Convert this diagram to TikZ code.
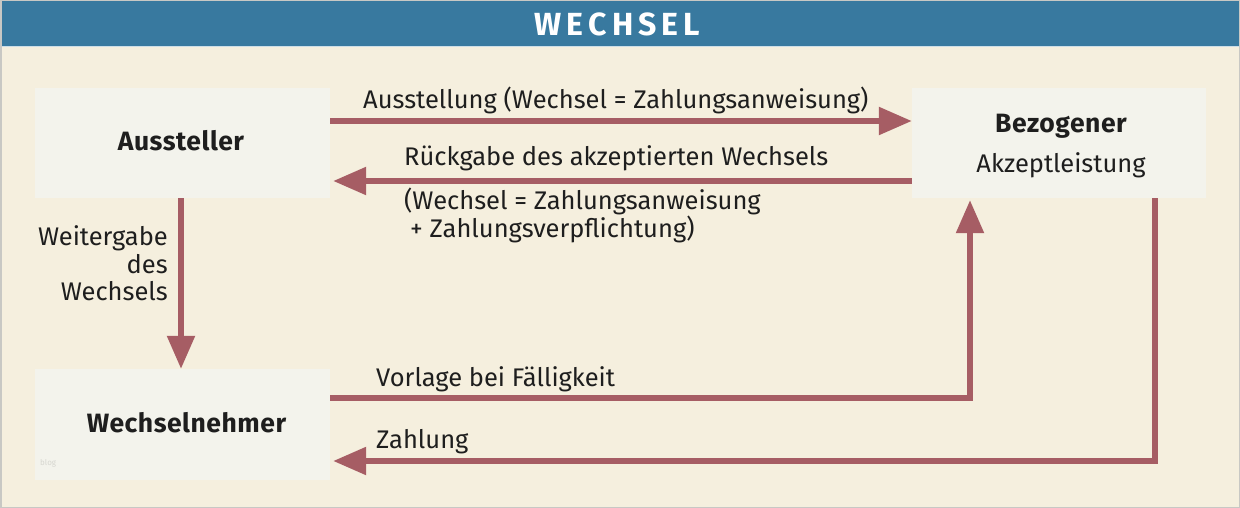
\documentclass[tikz,border=0pt]{standalone}
\usepackage{fontspec}
\setmainfont{Fira Sans}
\usetikzlibrary{arrows.meta,calc}
\definecolor{bg}{HTML}{F5EFDE}
\definecolor{hdr}{HTML}{38799F}
\definecolor{boxc}{HTML}{F3F3EC}
\definecolor{arrc}{HTML}{A65D64}
\definecolor{frame}{HTML}{C8C8C4}
\definecolor{txt}{HTML}{1E1E1E}
\tikzset{
  box/.style={fill=boxc, draw=none, minimum width=295pt, minimum height=110pt, inner sep=0pt},
  boxtxt/.style={inner sep=0pt, text=txt, font=\fontsize{26.5}{30}\selectfont\bfseries\addfontfeature{LetterSpace=2}},
  arr/.style={draw=arrc, line width=5.5pt, -{Triangle[length=33pt,width=27pt]}},
  lbl/.style={inner sep=0pt, text=txt, font=\fontsize{25.5}{30}\selectfont},
}
\begin{document}
\begin{tikzpicture}[x=1pt,y=-1pt]
\useasboundingbox (0,0) rectangle (1240,508);
\fill[bg] (0,0) rectangle (1240,508);
\draw[frame, line width=1.5pt] (0.75,0.75) rectangle (1239.25,507.25);
\fill[hdr] (1.5,1.5) rectangle (1238.5,46);
\draw[white!75!hdr, line width=1pt] (1.5,46.5) -- (1238.5,46.5);
\node[text=white, inner sep=0pt, font=\fontsize{32}{36}\selectfont\bfseries\addfontfeature{LetterSpace=16}] (title) at (617.5,24) {WECHSEL};

\node[box] (aus) at (182.5,143) {};
\node[box, minimum width=294pt] (bez) at (1059,143) {};
\node[box, minimum height=111pt] (wn) at (182.5,424.5) {};
\node[boxtxt, anchor=base] (aust) at (181,151) {Aussteller};
\node[boxtxt, anchor=base] (bezt) at (1061,133) {Bezogener};
\node[lbl, anchor=base] (bezs) at (1061,172) {Akzeptleistung};
\node[boxtxt, anchor=base] (wnt) at (186.5,432) {Wechselnehmer};
\node[inner sep=0pt, text=black!12!boxc, font=\fontsize{8}{9}\selectfont, anchor=base west] (blog) at (40,465) {blog};

\draw[arr] ($(aus.east)+(0,-22)$) -- ($(bez.west)+(0,-22)$);
\draw[arr, shorten >=3pt] ($(bez.west)+(0,38)$) -- ($(aus.east)+(0,38)$);
\draw[arr] ($(aus.south)+(-1.5,0)$) -- ($(wn.north)+(-1.5,0)$);
\draw[arr, shorten >=2pt] ($(wn.east)+(0,-26.5)$) -| ($(bez.south)+(-89,0)$);
\draw[arr, shorten >=3pt] ($(bez.south)+(96,0)$) |- ($(wn.east)+(0,36.5)$);

\node[lbl, anchor=base west] (l1) at (363,109) {Ausstellung (Wechsel = Zahlungsanweisung)};
\node[lbl, anchor=base west] (l2) at (404,165) {Rückgabe des akzeptierten Wechsels};
\node[lbl, anchor=base west] (l3) at (404,209) {(Wechsel = Zahlungsanweisung};
\node[lbl, anchor=base west] (l4) at (410,237) {+ Zahlungsverpflichtung)};
\node[lbl, anchor=base east] (l5) at (168,245) {Weitergabe};
\node[lbl, anchor=base east] (l6) at (168,273) {des};
\node[lbl, anchor=base east] (l7) at (168,300) {Wechsels};
\node[lbl, anchor=base west] (l8) at (376,386) {Vorlage bei Fälligkeit};
\node[lbl, anchor=base west] (l9) at (376,448) {Zahlung};
\end{tikzpicture}
\end{document}
